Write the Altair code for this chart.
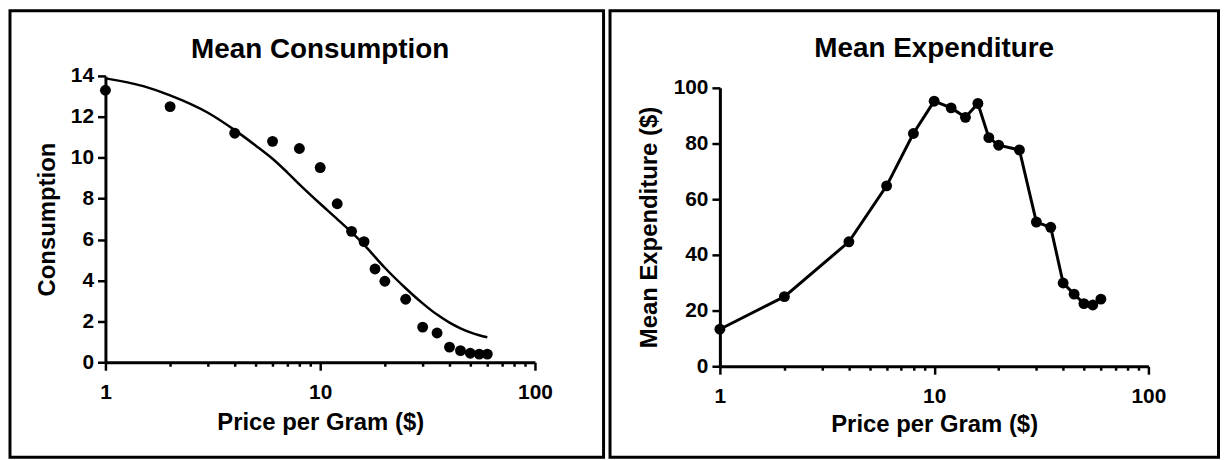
import altair as alt
import pandas as pd

# ---------------- data ----------------
price = [1, 2, 4, 6, 8, 10, 12, 14, 16, 18, 20, 25, 30, 35, 40, 45, 50, 55, 60]
consumption = [13.3, 12.5, 11.2, 10.8, 10.45, 9.52, 7.75, 6.4, 5.9, 4.56, 3.96,
               3.08, 1.72, 1.43, 0.74, 0.57, 0.44, 0.4, 0.4]
expenditure = [13.3, 25.0, 44.7, 64.8, 83.6, 95.2, 92.8, 89.4, 94.4, 82.1, 79.4,
               77.7, 51.8, 49.9, 29.9, 25.9, 22.5, 22.0, 24.1]
fit_price = [1, 1.5, 2, 3, 4, 5, 6, 7, 8, 10, 12, 14, 16, 18, 20, 25, 30, 35,
             40, 45, 50, 55, 60]
fit_consumption = [13.88, 13.5, 13.05, 12.2, 11.35, 10.6, 9.95, 9.3, 8.7, 7.75,
                   7.0, 6.35, 5.75, 5.15, 4.62, 3.62, 2.88, 2.33, 1.94, 1.66,
                   1.46, 1.32, 1.22]

x_tick_values = [1, 2, 3, 4, 5, 6, 7, 8, 9, 10, 20, 30, 40, 50, 60, 70, 80, 90, 100]
y1_ticks = [0, 2, 4, 6, 8, 10, 12, 14]
y2_ticks = [0, 20, 40, 60, 80, 100]

title_left = "Mean Consumption"
title_right = "Mean Expenditure"
x_title = "Price per Gram ($)"
y_title_left = "Consumption"
y_title_right = "Mean Expenditure ($)"

FONT = "Liberation Sans"

obs = pd.DataFrame({"price": price, "consumption": consumption,
                    "expenditure": expenditure})
fit = pd.DataFrame({"price": fit_price, "consumption": fit_consumption})
one = pd.DataFrame({"k": [0]})

major_test = "indexof([1, 10, 100], datum.value) >= 0"


def x_axis(title_y):
    return alt.Axis(
        values=x_tick_values,
        labelExpr=f"{major_test} ? datum.value : ''",
        labelOverlap=False,
        labelFlush=False,
        labelPadding=11,
        tickSize={"condition": {"test": major_test, "value": 8}, "value": 4},
        title=x_title,
        titleY=title_y,
        titleBaseline="alphabetic",
        titleFontSize=24,
    )


def y_axis(values, title, tx, ty):
    return alt.Axis(
        values=values,
        tickSize=8,
        labelPadding=4,
        labelFlush=False,
        title=title,
        titleAngle=270,
        titleX=tx,
        titleY=ty,
        titleAlign="center",
        titleBaseline="middle",
        titleFontSize=24,
    )


def panel(w, bx1, bx2, by1, by2, title, ty):
    border = alt.Chart(one).mark_rect(
        fill="white", fillOpacity=0, stroke="black", strokeWidth=3
    ).encode(
        x=alt.value(bx1), x2=alt.value(bx2), y=alt.value(by1), y2=alt.value(by2)
    )
    ttl = alt.Chart(one).mark_text(
        font=FONT, fontSize=28, fontWeight="bold", color="black",
        align="center", baseline="alphabetic"
    ).encode(x=alt.value(w / 2), y=alt.value(ty), text=alt.value(title))
    return border, ttl


# ---------------- left panel ----------------
W1, H1 = 432, 288
xs1 = alt.Scale(type="log", domain=[1, 100], nice=False)
ys1 = alt.Scale(domain=[0, 14], nice=False)

pts1 = alt.Chart(obs).mark_circle(size=120, color="black", opacity=1, clip=False).encode(
    x=alt.X("price:Q", scale=xs1, axis=x_axis(68)),
    y=alt.Y("consumption:Q", scale=ys1,
            axis=y_axis(y1_ticks, y_title_left, -58.5, H1 / 2)),
)
line1 = alt.Chart(fit).mark_line(color="black", strokeWidth=2.5,
                                 interpolate="monotone").encode(
    x=alt.X("price:Q", scale=xs1),
    y=alt.Y("consumption:Q", scale=ys1),
)
b1, t1 = panel(W1, -96, 501, -65.5, 383.5, title_left, -17.7)
left = alt.layer(b1, t1, line1, pts1).properties(width=W1, height=H1)

# ---------------- right panel ----------------
# view shares the left panel's top; the y range starts 12px lower
W2, H2, TOP2 = 431, 292, 12
xs2 = alt.Scale(type="log", domain=[1, 100], nice=False)
ys2 = alt.Scale(domain=[0, 100], nice=False, range=[H2, TOP2])

line2 = alt.Chart(obs).mark_line(color="black", strokeWidth=3).encode(
    x=alt.X("price:Q", scale=xs2, axis=x_axis(66)),
    y=alt.Y("expenditure:Q", scale=ys2,
            axis=y_axis(y2_ticks, y_title_right, -71, (H2 + TOP2) / 2)),
)
pts2 = alt.Chart(obs).mark_circle(size=120, color="black", opacity=1, clip=False).encode(
    x=alt.X("price:Q", scale=xs2),
    y=alt.Y("expenditure:Q", scale=ys2),
)
b2, t2 = panel(W2, -110.5, 501.5, -65.5, 383.5, title_right, -19.5)
right = alt.layer(b2, t2, line2, pts2).properties(width=W2, height=H2)

chart = alt.concat(left, right, columns=2, spacing=3, align="none").properties(
    padding=0, background="white"
).configure_view(stroke=None).configure_axis(
    domainColor="black", domainWidth=3, tickColor="black", tickWidth=2.5,
    grid=False,
    labelFont=FONT, labelFontSize=21, labelFontWeight="bold", labelColor="black",
    titleFont=FONT, titleFontWeight="bold", titleColor="black",
)

chart.save("out.html", embed_options={"renderer": "svg", "actions": False})
